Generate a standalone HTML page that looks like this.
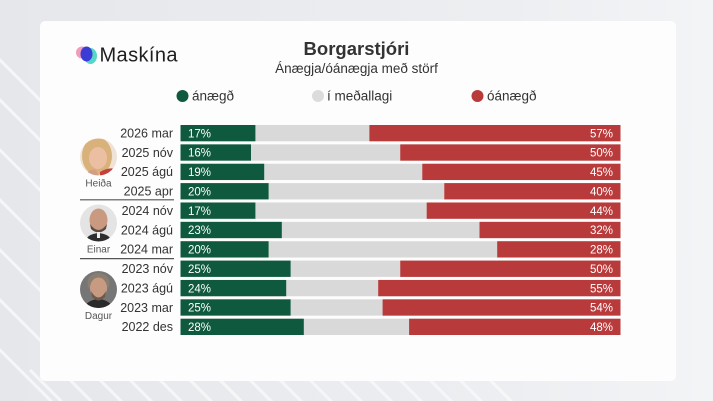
<!DOCTYPE html>
<html><head><meta charset="utf-8"><style>
html,body{margin:0;padding:0;background:#e9eaee;}
svg{display:block;}
text{font-family:"Liberation Sans",sans-serif;}
</style></head><body>
<svg width="713" height="401" viewBox="0 0 713 401" xmlns="http://www.w3.org/2000/svg">
<defs>
<clipPath id="c1"><circle cx="98.5" cy="157" r="18.5"/></clipPath>
<clipPath id="c2"><circle cx="98.5" cy="223" r="18.5"/></clipPath>
<clipPath id="c3"><circle cx="98.5" cy="289.5" r="18.5"/></clipPath>
<linearGradient id="bgg" x1="0" y1="0" x2="1" y2="0">
<stop offset="0" stop-color="#e6e7eb"/><stop offset="0.7" stop-color="#eceef1"/><stop offset="1" stop-color="#f3f4f6"/>
</linearGradient>
</defs>
<rect width="713" height="401" fill="url(#bgg)"/>
<g stroke="#f7f8fa" stroke-width="3" opacity="0.9">
<line x1="-40" y1="20" x2="60" y2="120"/>
<line x1="-40" y1="60" x2="60" y2="160"/>
<line x1="-40" y1="110" x2="60" y2="210"/>
<line x1="-40" y1="160" x2="60" y2="260"/>
<line x1="-40" y1="210" x2="60" y2="310"/>
<line x1="-40" y1="260" x2="60" y2="360"/>
<line x1="-40" y1="310" x2="60" y2="410"/>
<line x1="30" y1="370" x2="70" y2="410"/>
<line x1="60" y1="370" x2="100" y2="410"/>
<line x1="90" y1="370" x2="130" y2="410"/>
<line x1="120" y1="370" x2="160" y2="410"/>
<line x1="150" y1="370" x2="190" y2="410"/>
<line x1="180" y1="370" x2="220" y2="410"/>
<line x1="210" y1="370" x2="250" y2="410"/>
<line x1="240" y1="370" x2="280" y2="410"/>
<line x1="270" y1="370" x2="310" y2="410"/>
<line x1="300" y1="370" x2="340" y2="410"/>
<line x1="330" y1="370" x2="370" y2="410"/>
<line x1="360" y1="370" x2="400" y2="410"/>
<line x1="390" y1="370" x2="430" y2="410"/>
<line x1="420" y1="370" x2="460" y2="410"/>
<line x1="450" y1="370" x2="490" y2="410"/>
<line x1="480" y1="370" x2="520" y2="410"/>
</g>
<rect x="40" y="21" width="636" height="360" rx="5" fill="#fdfdfd"/>

<!-- logo -->
<circle cx="82" cy="52.5" r="6" fill="#f29bbb"/>
<ellipse cx="90.5" cy="56" rx="6.5" ry="8" fill="#55d6c6"/>
<ellipse cx="86.5" cy="54" rx="6" ry="7.5" fill="#3b3bd6"/>
<text x="99.5" y="61.5" font-size="20" letter-spacing="0.4" fill="#1e1e1e">Maskína</text>

<text x="356.5" y="55" font-size="18.5" font-weight="bold" text-anchor="middle" fill="#333">Borgarstjóri</text>
<text x="356.5" y="73" font-size="13.5" text-anchor="middle" fill="#333">Ánægja/óánægja með störf</text>

<!-- legend -->
<circle cx="182.5" cy="96" r="6" fill="#0f5a3e"/>
<text x="192" y="100.5" font-size="13.5" fill="#333">ánægð</text>
<circle cx="318" cy="96" r="6" fill="#dcdcdc"/>
<text x="327" y="100.5" font-size="13.5" fill="#333">í meðallagi</text>
<circle cx="477.5" cy="96" r="6" fill="#b93a3b"/>
<text x="487" y="100.5" font-size="13.5" fill="#333">óánægð</text>

<!-- bars -->
<g>
<rect x="180.5" y="125" width="440" height="16.3" fill="#d9d9d9"/>
<rect x="180.5" y="125" width="74.9" height="16.3" fill="#0f5a3e"/>
<rect x="369.4" y="125" width="251.1" height="16.3" fill="#b93a3b"/>

<rect x="180.5" y="144.37" width="440" height="16.3" fill="#d9d9d9"/>
<rect x="180.5" y="144.37" width="70.5" height="16.3" fill="#0f5a3e"/>
<rect x="400.25" y="144.37" width="220.25" height="16.3" fill="#b93a3b"/>

<rect x="180.5" y="163.74" width="440" height="16.3" fill="#d9d9d9"/>
<rect x="180.5" y="163.74" width="83.7" height="16.3" fill="#0f5a3e"/>
<rect x="422.3" y="163.74" width="198.2" height="16.3" fill="#b93a3b"/>

<rect x="180.5" y="183.11" width="440" height="16.3" fill="#d9d9d9"/>
<rect x="180.5" y="183.11" width="88.1" height="16.3" fill="#0f5a3e"/>
<rect x="444.3" y="183.11" width="176.2" height="16.3" fill="#b93a3b"/>

<rect x="180.5" y="202.48" width="440" height="16.3" fill="#d9d9d9"/>
<rect x="180.5" y="202.48" width="74.9" height="16.3" fill="#0f5a3e"/>
<rect x="426.7" y="202.48" width="193.8" height="16.3" fill="#b93a3b"/>

<rect x="180.5" y="221.85" width="440" height="16.3" fill="#d9d9d9"/>
<rect x="180.5" y="221.85" width="101.3" height="16.3" fill="#0f5a3e"/>
<rect x="479.5" y="221.85" width="141" height="16.3" fill="#b93a3b"/>

<rect x="180.5" y="241.22" width="440" height="16.3" fill="#d9d9d9"/>
<rect x="180.5" y="241.22" width="88.1" height="16.3" fill="#0f5a3e"/>
<rect x="497.2" y="241.22" width="123.3" height="16.3" fill="#b93a3b"/>

<rect x="180.5" y="260.59" width="440" height="16.3" fill="#d9d9d9"/>
<rect x="180.5" y="260.59" width="110.1" height="16.3" fill="#0f5a3e"/>
<rect x="400.25" y="260.59" width="220.25" height="16.3" fill="#b93a3b"/>

<rect x="180.5" y="279.96" width="440" height="16.3" fill="#d9d9d9"/>
<rect x="180.5" y="279.96" width="105.7" height="16.3" fill="#0f5a3e"/>
<rect x="378.2" y="279.96" width="242.3" height="16.3" fill="#b93a3b"/>

<rect x="180.5" y="299.33" width="440" height="16.3" fill="#d9d9d9"/>
<rect x="180.5" y="299.33" width="110.1" height="16.3" fill="#0f5a3e"/>
<rect x="382.6" y="299.33" width="237.9" height="16.3" fill="#b93a3b"/>

<rect x="180.5" y="318.7" width="440" height="16.3" fill="#d9d9d9"/>
<rect x="180.5" y="318.7" width="123.3" height="16.3" fill="#0f5a3e"/>
<rect x="409.1" y="318.7" width="211.4" height="16.3" fill="#b93a3b"/>
</g>

<!-- percent labels -->
<g font-size="11.5" fill="#ffffff">
<text x="188" y="137.3">17%</text>
<text x="188" y="156.7">16%</text>
<text x="188" y="176">19%</text>
<text x="188" y="195.4">20%</text>
<text x="188" y="214.8">17%</text>
<text x="188" y="234.2">23%</text>
<text x="188" y="253.5">20%</text>
<text x="188" y="272.9">25%</text>
<text x="188" y="292.3">24%</text>
<text x="188" y="311.6">25%</text>
<text x="188" y="331">28%</text>
</g>
<g font-size="11.5" fill="#ffffff" text-anchor="end">
<text x="613" y="137.3">57%</text>
<text x="613" y="156.7">50%</text>
<text x="613" y="176">45%</text>
<text x="613" y="195.4">40%</text>
<text x="613" y="214.8">44%</text>
<text x="613" y="234.2">32%</text>
<text x="613" y="253.5">28%</text>
<text x="613" y="272.9">50%</text>
<text x="613" y="292.3">55%</text>
<text x="613" y="311.6">54%</text>
<text x="613" y="331">48%</text>
</g>

<!-- row labels -->
<g font-size="12.5" fill="#333" text-anchor="end">
<text x="173" y="137.5">2026 mar</text>
<text x="173" y="156.9">2025 nóv</text>
<text x="173" y="176.2">2025 ágú</text>
<text x="173" y="195.6">2025 apr</text>
<text x="173" y="215">2024 nóv</text>
<text x="173" y="234.4">2024 ágú</text>
<text x="173" y="253.7">2024 mar</text>
<text x="173" y="273.1">2023 nóv</text>
<text x="173" y="292.5">2023 ágú</text>
<text x="173" y="311.8">2023 mar</text>
<text x="173" y="331.2">2022 des</text>
</g>

<!-- separators -->
<line x1="80" y1="199.8" x2="174" y2="199.8" stroke="#555" stroke-width="1.2"/>
<line x1="80" y1="258.6" x2="174" y2="258.6" stroke="#555" stroke-width="1.2"/>

<!-- Heiða portrait -->
<g clip-path="url(#c1)">
<rect x="78" y="136" width="42" height="42" fill="#eee3d6"/>
<ellipse cx="97" cy="156" rx="15" ry="19" fill="#d8b27a"/>
<ellipse cx="98" cy="158" rx="9" ry="11" fill="#ecbfa3"/>
<path d="M100 172 Q110 166 118 170 L118 178 L100 178 Z" fill="#c5403a"/>
<path d="M84 178 Q88 168 96 170 L100 178 Z" fill="#d49e86"/>
</g>
<text x="98.5" y="186.5" font-size="10" fill="#555" text-anchor="middle">Heiða</text>

<!-- Einar portrait -->
<g clip-path="url(#c2)">
<rect x="78" y="202" width="42" height="42" fill="#e4e4e4"/>
<path d="M84 244 Q86 234 98.5 233 Q111 234 113 244 Z" fill="#2e2e2e"/>
<ellipse cx="98.5" cy="220" rx="9" ry="11.5" fill="#c99a80"/>
<path d="M90 224 Q98.5 236 107 224 L106 229 Q98.5 236 91 229 Z" fill="#5a4c45"/>
<rect x="97" y="232" width="3" height="6" fill="#eee"/>
</g>
<text x="98.5" y="252.5" font-size="10" fill="#555" text-anchor="middle">Einar</text>

<!-- Dagur portrait -->
<g clip-path="url(#c3)">
<rect x="78" y="269" width="42" height="42" fill="#767676"/>
<path d="M82 311 Q86 300 98.5 299 Q111 300 115 311 Z" fill="#2a2a2a"/>
<ellipse cx="98.5" cy="283" rx="11" ry="10" fill="#8b7d70"/>
<ellipse cx="98.5" cy="288" rx="8.5" ry="10.5" fill="#c79b82"/>
<path d="M91 291 Q98.5 304 106 291 L105 297 Q98.5 304 92 297 Z" fill="#6e5a4a"/>
</g>
<text x="98.5" y="319" font-size="10" fill="#555" text-anchor="middle">Dagur</text>
</svg>
</body></html>
